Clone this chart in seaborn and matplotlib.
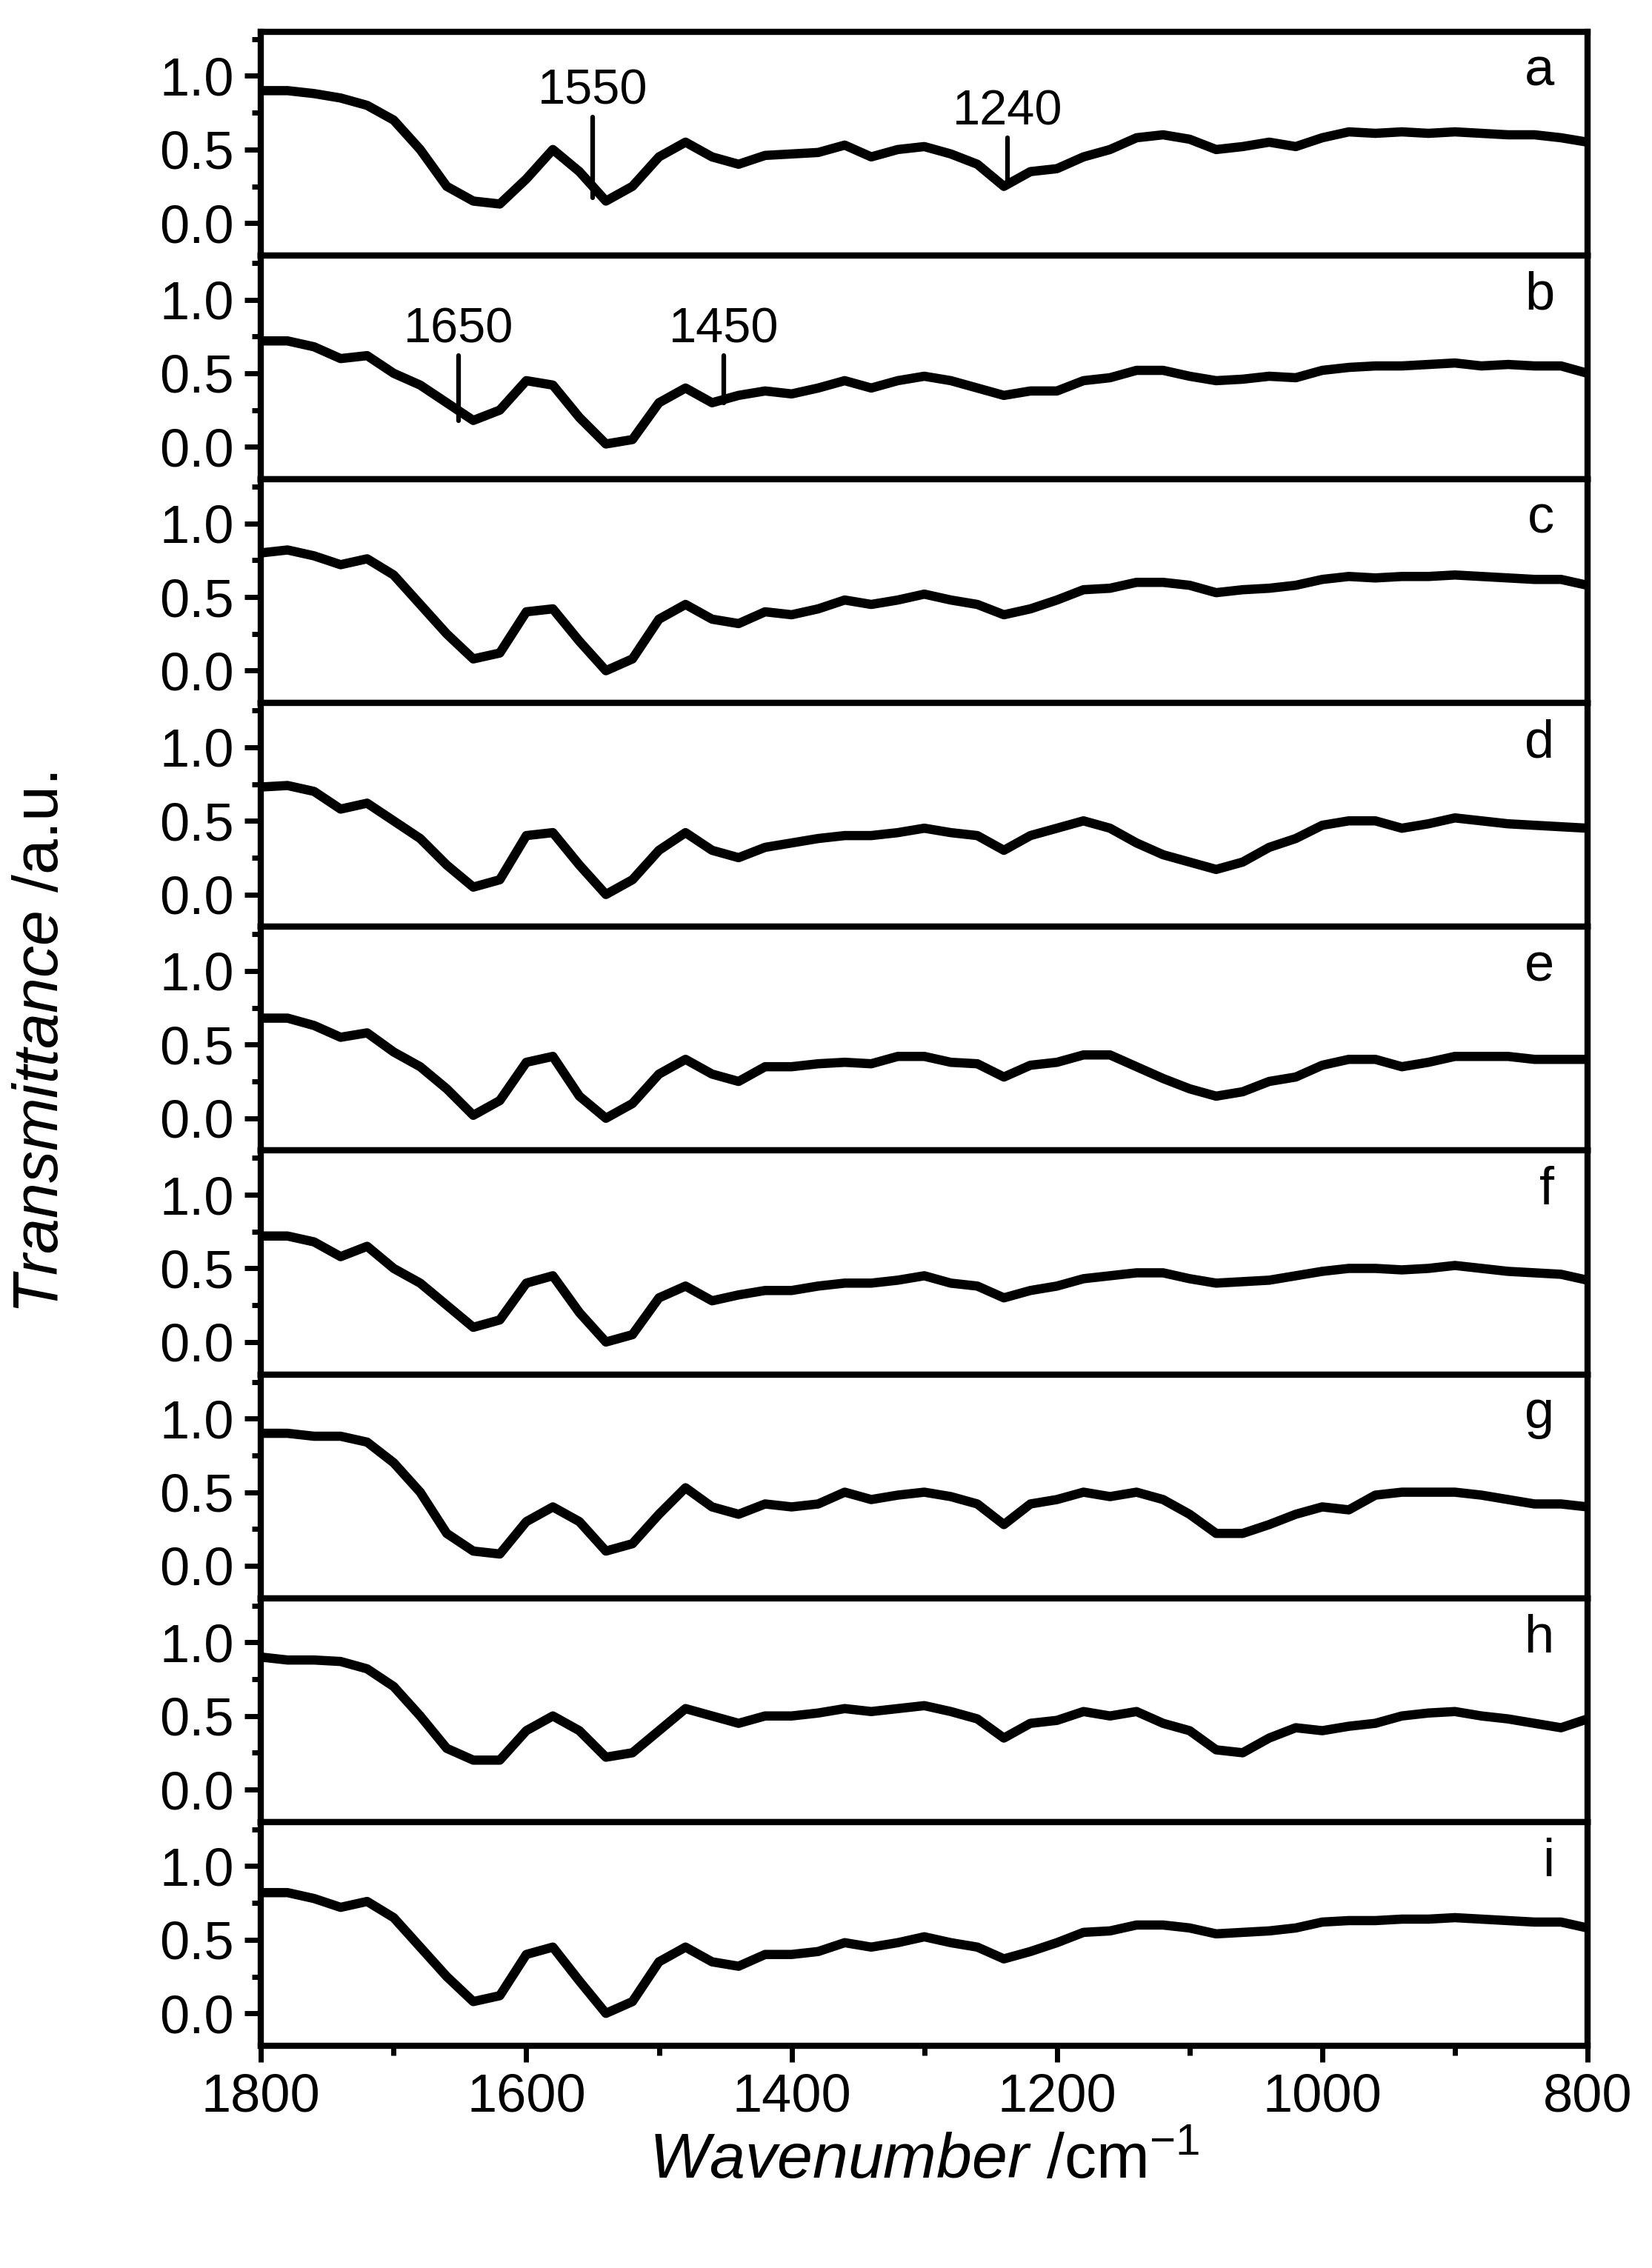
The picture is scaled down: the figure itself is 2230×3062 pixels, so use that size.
import numpy as np
import matplotlib
matplotlib.use("Agg")
import matplotlib.pyplot as plt
import seaborn as sns
from matplotlib.ticker import MultipleLocator

wavenumber = np.arange(1800, 799, -20)

spec_a = [0.90, 0.90, 0.88, 0.85, 0.80, 0.70, 0.50, 0.25, 0.15, 0.13,
          0.30, 0.50, 0.35, 0.15, 0.25, 0.45, 0.55, 0.45, 0.40, 0.46,
          0.47, 0.48, 0.53, 0.45, 0.50, 0.52, 0.47, 0.40, 0.25, 0.35,
          0.37, 0.45, 0.50, 0.58, 0.60, 0.57, 0.50, 0.52, 0.55, 0.52,
          0.58, 0.62, 0.61, 0.62, 0.61, 0.62, 0.61, 0.60, 0.60, 0.58, 0.55]
spec_b = [0.72, 0.72, 0.68, 0.60, 0.62, 0.50, 0.42, 0.30, 0.18, 0.25,
          0.45, 0.42, 0.20, 0.02, 0.05, 0.30, 0.40, 0.30, 0.35, 0.38,
          0.36, 0.40, 0.45, 0.40, 0.45, 0.48, 0.45, 0.40, 0.35, 0.38,
          0.38, 0.45, 0.47, 0.52, 0.52, 0.48, 0.45, 0.46, 0.48, 0.47,
          0.52, 0.54, 0.55, 0.55, 0.56, 0.57, 0.55, 0.56, 0.55, 0.55, 0.50]
spec_c = [0.80, 0.82, 0.78, 0.72, 0.76, 0.65, 0.45, 0.25, 0.08, 0.12,
          0.40, 0.42, 0.20, 0.00, 0.08, 0.35, 0.45, 0.35, 0.32, 0.40,
          0.38, 0.42, 0.48, 0.45, 0.48, 0.52, 0.48, 0.45, 0.38, 0.42,
          0.48, 0.55, 0.56, 0.60, 0.60, 0.58, 0.53, 0.55, 0.56, 0.58,
          0.62, 0.64, 0.63, 0.64, 0.64, 0.65, 0.64, 0.63, 0.62, 0.62, 0.58]
spec_d = [0.73, 0.74, 0.70, 0.58, 0.62, 0.50, 0.38, 0.20, 0.05, 0.10,
          0.40, 0.42, 0.20, 0.00, 0.10, 0.30, 0.42, 0.30, 0.25, 0.32,
          0.35, 0.38, 0.40, 0.40, 0.42, 0.45, 0.42, 0.40, 0.30, 0.40,
          0.45, 0.50, 0.45, 0.35, 0.27, 0.22, 0.17, 0.22, 0.32, 0.38,
          0.47, 0.50, 0.50, 0.45, 0.48, 0.52, 0.50, 0.48, 0.47, 0.46, 0.45]
spec_e = [0.68, 0.68, 0.63, 0.55, 0.58, 0.45, 0.35, 0.20, 0.02, 0.12,
          0.38, 0.42, 0.15, 0.00, 0.10, 0.30, 0.40, 0.30, 0.25, 0.35,
          0.35, 0.37, 0.38, 0.37, 0.42, 0.42, 0.38, 0.37, 0.28, 0.36,
          0.38, 0.43, 0.43, 0.35, 0.27, 0.20, 0.15, 0.18, 0.25, 0.28,
          0.36, 0.40, 0.40, 0.35, 0.38, 0.42, 0.42, 0.42, 0.40, 0.40, 0.40]
spec_f = [0.72, 0.72, 0.68, 0.58, 0.65, 0.50, 0.40, 0.25, 0.10, 0.15,
          0.40, 0.45, 0.20, 0.00, 0.05, 0.30, 0.38, 0.28, 0.32, 0.35,
          0.35, 0.38, 0.40, 0.40, 0.42, 0.45, 0.40, 0.38, 0.30, 0.35,
          0.38, 0.43, 0.45, 0.47, 0.47, 0.43, 0.40, 0.41, 0.42, 0.45,
          0.48, 0.50, 0.50, 0.49, 0.50, 0.52, 0.50, 0.48, 0.47, 0.46, 0.42]
spec_g = [0.90, 0.90, 0.88, 0.88, 0.84, 0.70, 0.50, 0.22, 0.10, 0.08,
          0.30, 0.40, 0.30, 0.10, 0.15, 0.35, 0.53, 0.40, 0.35, 0.42,
          0.40, 0.42, 0.50, 0.45, 0.48, 0.50, 0.47, 0.42, 0.28, 0.42,
          0.45, 0.50, 0.47, 0.50, 0.45, 0.35, 0.22, 0.22, 0.28, 0.35,
          0.40, 0.38, 0.48, 0.50, 0.50, 0.50, 0.48, 0.45, 0.42, 0.42, 0.40]
spec_h = [0.90, 0.88, 0.88, 0.87, 0.82, 0.70, 0.50, 0.28, 0.20, 0.20,
          0.40, 0.50, 0.40, 0.22, 0.25, 0.40, 0.55, 0.50, 0.45, 0.50,
          0.50, 0.52, 0.55, 0.53, 0.55, 0.57, 0.53, 0.48, 0.35, 0.45,
          0.47, 0.53, 0.50, 0.53, 0.45, 0.40, 0.27, 0.25, 0.35, 0.42,
          0.40, 0.43, 0.45, 0.50, 0.52, 0.53, 0.50, 0.48, 0.45, 0.42, 0.48]
spec_i = [0.82, 0.82, 0.78, 0.72, 0.76, 0.65, 0.45, 0.25, 0.08, 0.12,
          0.40, 0.45, 0.22, 0.00, 0.08, 0.35, 0.45, 0.35, 0.32, 0.40,
          0.40, 0.42, 0.48, 0.45, 0.48, 0.52, 0.48, 0.45, 0.37, 0.42,
          0.48, 0.55, 0.56, 0.60, 0.60, 0.58, 0.54, 0.55, 0.56, 0.58,
          0.62, 0.63, 0.63, 0.64, 0.64, 0.65, 0.64, 0.63, 0.62, 0.62, 0.58]

panel_labels = ["a", "b", "c", "d", "e", "f", "g", "h", "i"]
spectra = [spec_a, spec_b, spec_c, spec_d, spec_e, spec_f, spec_g, spec_h, spec_i]

# (panel index, wavenumber, label, line top, line bottom)
peak_marks = [(0, 1550, "1550", 0.72, 0.17),
              (0, 1237, "1240", 0.58, 0.28),
              (1, 1651, "1650", 0.62, 0.18),
              (1, 1451, "1450", 0.62, 0.30)]

sns.set_style("ticks")
plt.rcParams["font.family"] = ["Liberation Sans", "DejaVu Sans"]
plt.rcParams["mathtext.fontset"] = "custom"
plt.rcParams["mathtext.rm"] = "Liberation Sans"
plt.rcParams["mathtext.it"] = "Liberation Sans:italic"
plt.rcParams["text.color"] = "black"
plt.rcParams["axes.labelcolor"] = "black"
plt.rcParams["xtick.color"] = "black"
plt.rcParams["ytick.color"] = "black"
plt.rcParams["axes.edgecolor"] = "black"

fig, axes = plt.subplots(9, 1, figsize=(22.3, 30.62), dpi=100, sharex=True)
fig.subplots_adjust(left=0.158, right=0.961, top=0.986, bottom=0.098, hspace=0)

for ax, lab, spec in zip(axes, panel_labels, spectra):
    sns.lineplot(x=wavenumber, y=spec, ax=ax, color="black", linewidth=9)
    ax.set_xlim(1800, 800)
    ax.set_ylim(-0.22, 1.3)
    ax.yaxis.set_minor_locator(MultipleLocator(0.25))
    ax.xaxis.set_major_locator(MultipleLocator(200))
    ax.xaxis.set_minor_locator(MultipleLocator(100))
    ax.set_yticks([0.0, 0.5, 1.0])
    ax.set_yticklabels(["0.0", "0.5", "1.0"])
    ax.tick_params(axis="both", which="major", labelsize=52, width=5, length=16, direction="out", pad=10)
    ax.tick_params(axis="both", which="minor", width=5, length=9, direction="out")
    for s in ax.spines.values():
        s.set_linewidth(6)
    ax.text(0.975, 0.82, lab, transform=ax.transAxes, ha="right", va="center", fontsize=52)

for idx, wn, txt, top, bot in peak_marks:
    ax = axes[idx]
    ax.plot([wn, wn], [bot, top], color="black", linewidth=4.5)
    ax.text(wn, top + 0.02, txt, ha="center", va="bottom", fontsize=48)

axes[-1].set_xlabel("$\\it{Wavenumber}$ /cm$^{-1}$", fontsize=62, labelpad=10)
fig.text(0.025, 0.54, "$\\it{Transmittance}$ /a.u.", rotation=90, ha="center", va="center", fontsize=62)

fig.savefig("out.png", dpi=100)
